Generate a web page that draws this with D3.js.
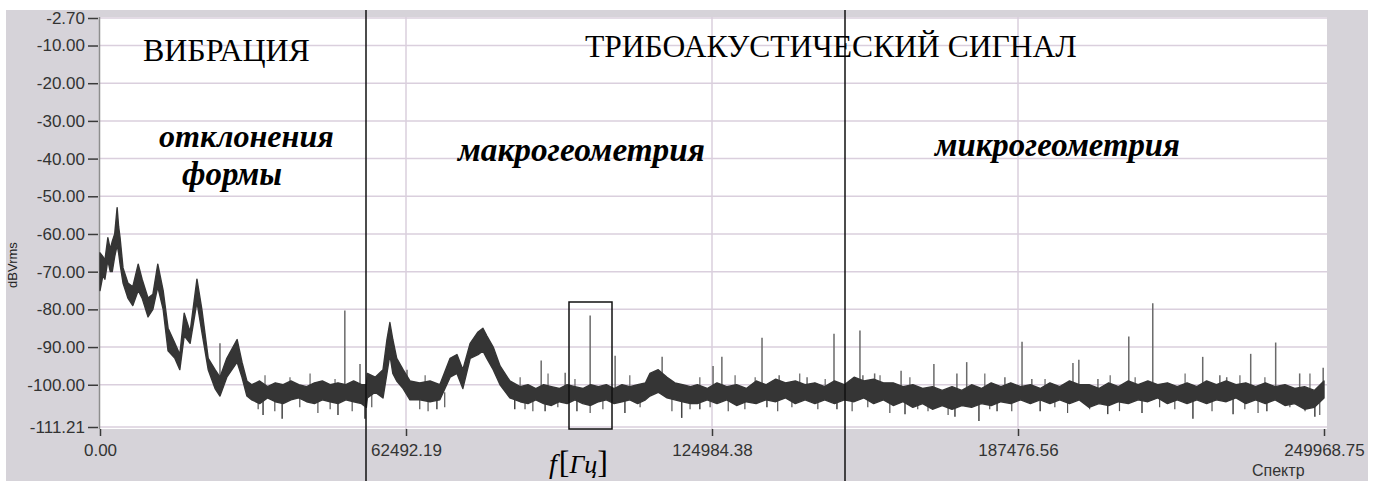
<!DOCTYPE html>
<html lang="ru">
<head>
<meta charset="utf-8">
<title>Спектр</title>
<script src="https://cdn.jsdelivr.net/npm/d3@7"></script>
<style>
  body { margin: 0; background: #fff; }
  .axis text { font-family: "Liberation Sans", Arial, sans-serif; font-size: 17px; fill: #333; }
  .axis line { stroke: #3a3a3a; stroke-width: 1.5; }
  .axis path { display: none; }
  .grid line { stroke: #dacfdd; stroke-width: 1.5; }
</style>
</head>
<body>
<div id="chart"></div>
<script>
// spectrum band: frequency (Hz), upper and lower edge of the trace (dBVrms)
var traceFreq = [0, 600, 1000, 1600, 2100, 2500, 3000, 3500, 3800, 4100, 4700, 5700, 6700, 7800, 8600, 9800, 10800, 11800, 12900,
  13900, 15300, 16300, 17200, 18400, 19800, 20800, 22100, 23500, 24500, 25900, 28000, 29000, 30000,
  31000, 32600, 34200, 35800, 37400, 39000, 40600, 42200, 43800, 45400, 47000, 48600, 50200, 51800, 53400, 54400,
  54600, 56200, 57800, 58600, 59200, 59800, 60600, 61900, 63300, 65300, 67400, 69400, 71500, 72900, 74100, 75600,
  77200, 78200, 79000, 80300, 81700, 83700,
  85800, 87400, 89000, 90600, 92200, 93800, 95400, 97000, 98600, 100200, 101800, 103400, 105000, 106600,
  108200, 109800, 111400, 112300, 114000, 115800, 117400, 119000, 120600,
  122000, 124000, 126000, 128000, 130000, 132000, 134000, 136000, 138000, 140000,
  142000, 144000, 146000, 148000, 150000, 152000, 154000, 156000, 158000, 160000,
  162000, 164000, 166000, 168000, 170000, 172000, 174000, 176000, 178000, 180000,
  182000, 184000, 186000, 188000, 190000, 192000, 194000, 196000, 198000, 200000,
  202000, 204000, 206000, 208000, 210000, 212000, 214000, 216000, 218000, 220000,
  222000, 224000, 226000, 228000, 230000, 232000, 234000, 236000, 238000, 240000,
  242000, 244000, 246000, 248000, 249968.75];
var traceHigh = [-65, -66, -67, -61, -64, -62, -60, -53, -58, -61, -69, -73, -74, -68, -72, -77, -76, -68, -75,
  -85, -89, -92, -81, -86, -72, -80, -93, -96, -98, -93, -88, -94, -99,
  -100, -99, -100.5, -99.5, -100, -99, -100, -100.5, -99.5, -99, -100, -99.5, -100, -99, -100, -100,
  -97, -98, -96, -88, -83.5, -88, -93, -96, -99, -99.5, -99, -100, -93, -92, -96, -89,
  -86, -85, -87, -90, -95, -99,
  -100.5, -100, -101, -100, -100.5, -101, -100, -100.5, -101, -100, -100.5, -100, -101, -100,
  -100.5, -100, -99.5, -97, -96, -98, -99.5, -100, -100.5,
  -100, -101, -99.5, -100.5, -100, -101, -99, -100, -98.5, -99.5,
  -99, -100, -99.5, -100.5, -99, -100, -98, -99, -98.5, -99.5,
  -99.5, -100.5, -100, -101, -100.5, -101.5, -100.5, -101.5, -100, -101,
  -99.5, -100.5, -99.5, -100.5, -100, -101, -99.5, -100.5, -99, -100,
  -100, -101, -99.5, -100.5, -99, -100, -99, -100, -99.5, -100.5,
  -99.5, -100.5, -99, -100, -99, -100, -99.5, -100.5, -99.5, -100.5,
  -100, -101, -100.5, -101.5, -99];
var traceLow = [-75, -71, -72, -67, -70, -70, -66, -63, -65, -68, -73, -77, -79, -75, -77, -82, -80, -74, -80,
  -91, -93, -96, -87, -89, -78, -86, -96, -101, -103, -98, -94, -98, -103,
  -104, -105, -103.5, -104.5, -105, -104, -103.5, -104.5, -105, -104, -104.5, -105, -104, -104.5, -105, -106,
  -103.5, -102, -103.5, -97, -92, -97, -99, -101, -104, -104, -104.5, -104, -98, -97, -101, -93,
  -92, -91, -93, -96, -100, -103.5,
  -104.5, -105, -104, -105, -105.5, -104.5, -105, -104, -105, -105.5, -104.5, -104, -105, -104.5,
  -104, -105, -104, -103, -102, -103.5, -104, -104.5, -105,
  -105, -104, -105, -104, -105.5, -104.5, -105, -104, -104.5, -103.5,
  -105, -104, -105, -104, -105, -104, -104.5, -103.5, -105, -104,
  -105.5, -104.5, -106, -105, -106.5, -105.5, -106.5, -105.5, -106, -105,
  -105.5, -104.5, -105, -104, -105, -104, -105, -104, -105, -104,
  -106, -105, -105.5, -104.5, -105, -104, -104.5, -103.5, -105, -104,
  -105, -104, -105, -104, -104.5, -103.5, -105, -104, -105, -104,
  -105.5, -105, -106.5, -106, -103.5];

// narrow peaks above the noise floor
var spikeFreq = [24500, 50000, 53100, 57000, 62700, 90100, 95000, 100100, 105200, 114000, 114800, 125200, 127000,
  135200, 138700, 144400, 149900, 155200, 155800, 158200, 163600, 170300, 175000, 177000, 184800, 188300,
  190300, 198700, 199900, 203800, 210100, 215000, 225200, 228700, 230100, 235000, 240100, 245000, 249800];
var spikeTop = [-89, -80.3, -94.5, -97.5, -96, -93.6, -96.8, -81.6, -92.3, -96.5, -92.6, -95, -92.6,
  -87.5, -97.5, -98, -86.5, -85.6, -97.5, -97, -96.3, -94.5, -97, -94, -98, -88.6,
  -98.5, -94.2, -93.4, -98.5, -87.2, -78.4, -92.6, -97.5, -98, -91.8, -88.8, -97, -95.5];

// drops below the noise floor
var dipFreq = [33300, 37200, 48600, 54100, 68800, 84700, 90900, 97400, 107200, 118800, 122500, 136200,
  150500, 164400, 174600, 179500, 183200, 192000, 205800, 212800, 223200, 231400, 238300, 248100];
var dipBottom = [-108, -109, -108, -109, -106.5, -106.5, -107, -107, -107.5, -108.8, -106.5, -106,
  -106.5, -107.8, -108.5, -109.6, -107, -107, -107.8, -107.5, -109, -107.8, -107, -108.5];

// short noise strokes on both sides of the floor
var fuzzUpFreq = [33700, 38800, 42900, 48000, 66400, 85800, 91500, 97000, 108200, 122500, 129700, 133800,
  142900, 148100, 159300, 165400, 180700, 193000, 206300, 211400, 221600, 232800, 237900, 247100];
var fuzzUpTop = [-97.5, -98, -97, -98.5, -97.5, -98, -97, -98.5, -97.5, -98, -97.5, -98,
  -97, -98.5, -97.5, -98, -97, -98.5, -97.5, -98, -97, -97.5, -98, -97];
var fuzzDownFreq = [32300, 35700, 40800, 44500, 47000, 51500, 55500, 65300, 67000, 70400, 86800, 88400,
  93500, 100100, 102700, 110300, 116800, 120500, 124600, 128300, 131700, 138400, 141300, 146600,
  153600, 156800, 161300, 167000, 169100, 173200, 181700, 186200, 195000, 197600, 202100, 208200,
  216400, 219500, 227100, 233800, 236500, 243000, 246100, 249100];
var fuzzDownBottom = [-106.5, -107, -106, -107.5, -106.5, -107, -106, -106.5, -107, -106, -106.5, -107,
  -106, -107.5, -106.5, -106, -107, -106.5, -106, -107, -106.5, -107, -106, -106.5,
  -107, -106, -107.5, -106.5, -107, -108, -106.5, -107, -106, -107.5, -106.5, -107,
  -106, -106.5, -107, -106.5, -107.5, -106, -107, -108];

var yTicks = [-2.70, -10, -20, -30, -40, -50, -60, -70, -80, -90, -100, -111.21];
var xTicks = [0, 62492.19, 124984.38, 187476.56, 249968.75];

var W = 1379, H = 481;
var plot = {left: 100, right: 1327, top: 17, bottom: 429};

var svg = d3.select("#chart").append("svg")
    .attr("width", W)
    .attr("height", H);

var xScale = d3.scaleLinear().domain([0, 249968.75]).range([100, 1324]);
var yScale = d3.scaleLinear().domain([-111.21, -2.70]).range([427, 18]);

// grey panel and white plot area
svg.append("rect").attr("x", 6).attr("y", 10).attr("width", 1362).attr("height", H - 10).attr("fill", "#d6d3d9");
svg.append("rect").attr("x", plot.left).attr("y", plot.top)
    .attr("width", plot.right - plot.left).attr("height", plot.bottom - plot.top).attr("fill", "#fff");

// grid
svg.append("g").attr("class", "grid")
    .selectAll("line").data(yTicks).enter().append("line")
    .attr("x1", plot.left).attr("x2", plot.right)
    .attr("y1", function(d) { return yScale(d); })
    .attr("y2", function(d) { return yScale(d); });
svg.append("g").attr("class", "grid")
    .selectAll("line").data(xTicks.slice(1, 4)).enter().append("line")
    .attr("y1", plot.top).attr("y2", plot.bottom)
    .attr("x1", function(d) { return xScale(d); })
    .attr("x2", function(d) { return xScale(d); });

// left border of the plot
svg.append("line").attr("x1", 99.5).attr("x2", 99.5).attr("y1", plot.top).attr("y2", plot.bottom)
    .attr("stroke", "#8e8e8e").attr("stroke-width", 1.5);

var fmt = function(d) { return d.toFixed(2); };

svg.append("g").attr("class", "axis")
    .attr("transform", "translate(98,0)")
    .call(d3.axisLeft(yScale).tickValues(yTicks).tickFormat(fmt).tickSize(10).tickPadding(3));

svg.append("g").attr("class", "axis")
    .attr("transform", "translate(0," + plot.bottom + ")")
    .call(d3.axisBottom(xScale).tickValues(xTicks).tickFormat(fmt).tickSize(7).tickPadding(8));

// vertical strokes going out of the band
function strokes(freqs, ends, from, color, width) {
  svg.append("g").selectAll("line")
      .data(freqs).enter().append("line")
      .attr("x1", function(d) { return xScale(d); })
      .attr("x2", function(d) { return xScale(d); })
      .attr("y1", yScale(from))
      .attr("y2", function(d, i) { return yScale(ends[i]); })
      .attr("stroke", color).attr("stroke-width", width);
}

strokes(fuzzDownFreq, fuzzDownBottom, -102, "#555", 1.2);
strokes(fuzzUpFreq, fuzzUpTop, -101, "#666", 1.2);
strokes(dipFreq, dipBottom, -102, "#444", 1.5);
strokes(spikeFreq, spikeTop, -101, "#6a6a6a", 1.5);

// the spectrum trace
var trace = traceFreq.map(function(f, i) { return {f: f, hi: traceHigh[i], lo: traceLow[i]}; });

svg.append("path")
    .datum(trace)
    .attr("d", d3.area()
        .x(function(d) { return xScale(d.f); })
        .y0(function(d) { return yScale(d.lo); })
        .y1(function(d) { return yScale(d.hi); }))
    .attr("fill", "#353535")
    .attr("stroke", "#353535")
    .attr("stroke-width", 1.4)
    .attr("stroke-linejoin", "round");

// y label and x caption
svg.append("text")
    .attr("transform", "translate(17,265) rotate(-90)")
    .attr("text-anchor", "middle")
    .attr("font-family", "Liberation Sans, Arial, sans-serif")
    .attr("font-size", 13)
    .attr("fill", "#222")
    .text("dBVrms");

svg.append("text")
    .attr("x", 1252).attr("y", 476)
    .attr("font-family", "Liberation Sans, Arial, sans-serif")
    .attr("font-size", 16)
    .attr("fill", "#333")
    .text("Спектр");

// region markers
[366, 845].forEach(function(x) {
  svg.append("line").attr("x1", x).attr("x2", x).attr("y1", 10).attr("y2", H)
      .attr("stroke", "#111").attr("stroke-width", 1.5);
});
svg.append("rect").attr("x", 569).attr("y", 302).attr("width", 43).attr("height", 127)
    .attr("fill", "none").attr("stroke", "#111").attr("stroke-width", 1.5);

function fit(t, w) {
  var len = t.node().getComputedTextLength();
  t.attr("font-size", parseFloat(t.attr("font-size")) * w / len);
}

var labels = [
  {text: "ВИБРАЦИЯ", x: 143, y: 61, w: 167, italic: false},
  {text: "ТРИБОАКУСТИЧЕСКИЙ СИГНАЛ", x: 585, y: 57, w: 492, italic: false},
  {text: "отклонения", x: 159, y: 147, w: 175, italic: true},
  {text: "формы", x: 182, y: 185, w: 100, italic: true},
  {text: "макрогеометрия", x: 458, y: 161, w: 247, italic: true},
  {text: "микрогеометрия", x: 935, y: 156, w: 245, italic: true}
];
labels.forEach(function(d) {
  var t = svg.append("text")
      .attr("x", d.x).attr("y", d.y)
      .attr("font-family", "Liberation Serif, Times New Roman, serif")
      .attr("font-size", 26)
      .attr("font-style", d.italic ? "italic" : "normal")
      .attr("font-weight", d.italic ? "bold" : "normal")
      .attr("fill", "#000")
      .text(d.text);
  fit(t, d.w);
});

var fl = svg.append("text").attr("x", 549).attr("y", 473)
    .attr("font-family", "Liberation Serif, Times New Roman, serif")
    .attr("fill", "#000");
fl.append("tspan").attr("font-size", 28).attr("font-style", "italic").text("f");
fl.append("tspan").attr("font-size", 32).attr("dx", 2).text("[");
fl.append("tspan").attr("font-size", 26).attr("font-style", "italic").text("Гц");
fl.append("tspan").attr("font-size", 32).text("]");
</script>
</body>
</html>
